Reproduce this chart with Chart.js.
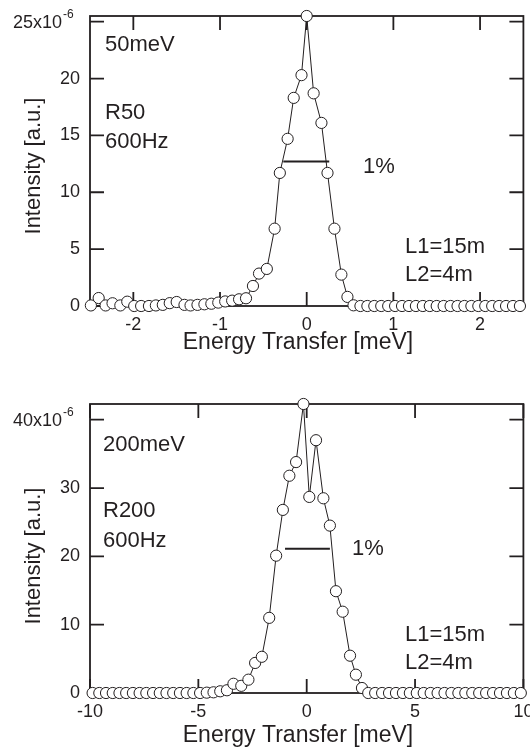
<!DOCTYPE html>
<html>
<head>
<meta charset="utf-8">
<script src="https://cdn.jsdelivr.net/npm/chart.js@4.4.0/dist/chart.umd.min.js"></script>
<style>
  html, body { margin: 0; padding: 0; background: #fff; }
  body { width: 530px; height: 749px; position: relative; overflow: hidden; }
  .panel { position: absolute; left: 0; width: 530px; }
  #top { top: 0; height: 360px; }
  #bottom { top: 380px; height: 369px; }
</style>
</head>
<body>
<div class="panel" id="top"><canvas id="chart50"></canvas></div>
<div class="panel" id="bottom"><canvas id="chart200"></canvas></div>
<script>
// --- 50 meV, R50 600Hz ---
const energy50 = [
  -2.49, -2.40, -2.32, -2.24, -2.15, -2.07, -1.99, -1.91, -1.82, -1.74,
  -1.66, -1.58, -1.50, -1.41, -1.34, -1.26, -1.18, -1.10, -1.02, -0.94,
  -0.86, -0.78, -0.70, -0.62, -0.55, -0.46, -0.37, -0.31, -0.22, -0.15,
  -0.06, 0.00, 0.08, 0.17, 0.24, 0.32, 0.40, 0.47, 0.54, 0.62,
  0.70, 0.78, 0.86, 0.94, 1.02, 1.10, 1.18, 1.26, 1.34, 1.42,
  1.50, 1.58, 1.66, 1.74, 1.82, 1.90, 1.98, 2.06, 2.14, 2.22,
  2.30, 2.38, 2.46
];
const intensity50 = [
  0.05, 0.7, 0.05, 0.24, 0.05, 0.38, 0.0, 0.0, 0.0, 0.05,
  0.1, 0.25, 0.35, 0.1, 0.05, 0.1, 0.15, 0.2, 0.3, 0.4,
  0.47, 0.59, 0.68, 1.76, 2.85, 3.26, 6.8, 11.7, 14.7, 18.3,
  20.3, 25.5, 18.7, 16.1, 11.7, 6.8, 2.76, 0.8, 0.06, 0,
  0, 0, 0, 0, 0, 0, 0, 0, 0, 0,
  0, 0, 0, 0, 0, 0, 0, 0, 0, 0,
  0, 0, 0
];
const width50 = [-0.27, 0.26];
const widthLevel50 = 12.7;
const xTicks50 = [-2, -1, 0, 1, 2];
const yTicks50 = [0, 5, 10, 15, 20, 25];

// --- 200 meV, R200 600Hz ---
const energy200 = [
  -9.88, -9.57, -9.26, -8.95, -8.64, -8.33, -8.02, -7.71, -7.40, -7.09,
  -6.78, -6.47, -6.16, -5.85, -5.54, -5.23, -4.92, -4.61, -4.30, -3.99,
  -3.68, -3.38, -3.02, -2.69, -2.38, -2.07, -1.73, -1.41, -1.10, -0.80,
  -0.49, -0.15, 0.12, 0.43, 0.77, 1.07, 1.35, 1.66, 2.00, 2.27,
  2.55, 2.84, 3.16, 3.48, 3.80, 4.12, 4.44, 4.76, 5.08, 5.40,
  5.72, 6.04, 6.36, 6.68, 7.00, 7.32, 7.64, 7.96, 8.28, 8.60,
  8.92, 9.24, 9.56, 9.88
];
const intensity200 = [
  0, 0, 0, 0, 0, 0, 0, 0, 0, 0,
  0, 0, 0, 0, 0, 0, 0, 0.05, 0.1, 0.25,
  0.4, 1.35, 1.05, 1.95, 4.4, 5.3, 11.0, 20.1, 26.8, 31.8,
  33.8, 42.3, 28.7, 37.0, 28.5, 24.5, 14.9, 11.9, 5.46, 2.68,
  0.73, 0, 0, 0, 0, 0, 0, 0, 0, 0,
  0, 0, 0, 0, 0, 0, 0, 0, 0, 0,
  0, 0, 0, 0
];
const width200 = [-1.0, 1.07];
const widthLevel200 = 21.1;
const xTicks200 = [-10, -5, 0, 5, 10];
const yTicks200 = [0, 10, 20, 30, 40];

const INK = '#231f20';
const FONT = "'Liberation Sans', Arial, Helvetica, sans-serif";
const TICK = 14;

// frame, inward ticks on all four sides, axis titles, free text and the exponent
const framePlugin = {
  id: 'frame',
  beforeDatasetsDraw(chart) {
    const { ctx, chartArea: a, scales: { x, y } } = chart;
    ctx.save();
    ctx.strokeStyle = INK;
    ctx.lineWidth = 1.8;
    ctx.strokeRect(a.left, a.top, a.right - a.left, a.bottom - a.top);
    ctx.beginPath();
    x.ticks.forEach(t => {
      const px = x.getPixelForValue(t.value);
      ctx.moveTo(px, a.bottom); ctx.lineTo(px, a.bottom - TICK);
      ctx.moveTo(px, a.top); ctx.lineTo(px, a.top + TICK);
    });
    y.ticks.forEach(t => {
      const py = y.getPixelForValue(t.value);
      ctx.moveTo(a.left, py); ctx.lineTo(a.left + TICK, py);
      ctx.moveTo(a.right, py); ctx.lineTo(a.right - TICK, py);
    });
    ctx.stroke();
    ctx.restore();
  },
  afterDraw(chart, args, opts) {
    const { ctx, scales: { y } } = chart;
    ctx.save();
    ctx.fillStyle = INK;
    ctx.textBaseline = 'middle';

    // axis titles
    ctx.textAlign = 'center';
    ctx.font = '23px ' + FONT;
    ctx.fillText('Energy Transfer [meV]', 298, opts.xTitleY);
    ctx.save();
    ctx.translate(34, opts.yTitleY);
    ctx.rotate(-Math.PI / 2);
    ctx.font = '22px ' + FONT;
    ctx.fillText('Intensity [a.u.]', 0, 0);
    ctx.restore();

    ctx.textAlign = 'left';
    ctx.font = '22px ' + FONT;
    (opts.notes || []).forEach(n => ctx.fillText(n.text, n.x, n.y));

    // top y label with exponent
    const py = y.getPixelForValue(opts.topTick);
    ctx.font = '18px ' + FONT;
    ctx.textAlign = 'right';
    ctx.fillText(opts.topTick + 'x10', 62, py + 1);
    ctx.font = '12px ' + FONT;
    ctx.textAlign = 'left';
    ctx.fillText('-6', 63, py - 7);
    ctx.restore();
  }
};

function makeChart(id, cfg) {
  const points = cfg.xs.map((x, i) => ({ x: x, y: cfg.ys[i] }));
  const bar = cfg.bar.map(x => ({ x: x, y: cfg.barLevel }));
  const topTick = cfg.yTicks[cfg.yTicks.length - 1];

  return new Chart(document.getElementById(id), {
    type: 'line',
    data: {
      datasets: [
        {
          data: points,
          borderColor: INK,
          borderWidth: 1,
          tension: 0,
          pointRadius: 5.6,
          pointBorderWidth: 1,
          pointBorderColor: INK,
          pointBackgroundColor: '#fff',
          clip: false
        },
        {
          data: bar,
          borderColor: INK,
          borderWidth: 2,
          pointRadius: 0
        }
      ]
    },
    options: {
      responsive: true,
      maintainAspectRatio: false,
      animation: false,
      layout: { padding: { top: cfg.padTop, right: 6, left: 0, bottom: 0 } },
      plugins: {
        legend: { display: false },
        tooltip: { enabled: false },
        frame: { notes: cfg.notes, topTick: topTick, xTitleY: cfg.xTitleY, yTitleY: cfg.yTitleY }
      },
      scales: {
        x: {
          type: 'linear',
          min: cfg.xMin,
          max: cfg.xMax,
          afterBuildTicks: s => { s.ticks = cfg.xTicks.map(v => ({ value: v })); },
          afterFit: s => { s.height = cfg.xAxisHeight; s.paddingLeft = 0; s.paddingRight = 0; },
          grid: { display: false, drawTicks: false },
          border: { display: false },
          ticks: {
            color: INK,
            font: { family: FONT, size: 18 },
            padding: 8,
            autoSkip: false,
            maxRotation: 0
          }
        },
        y: {
          min: 0,
          max: cfg.yMax,
          afterBuildTicks: s => { s.ticks = cfg.yTicks.map(v => ({ value: v })); },
          afterFit: s => { s.width = 90; s.paddingTop = 0; s.paddingBottom = 0; },
          grid: { display: false, drawTicks: false },
          border: { display: false },
          ticks: {
            color: INK,
            font: { family: FONT, size: 18 },
            padding: 10,
            autoSkip: false,
            callback: v => (v === topTick ? '' : v)
          }
        }
      }
    },
    plugins: [framePlugin]
  });
}

makeChart('chart50', {
  xs: energy50, ys: intensity50, bar: width50, barLevel: widthLevel50,
  xTicks: xTicks50, yTicks: yTicks50, xMin: -2.5, xMax: 2.5, yMax: 25.5,
  padTop: 16, xAxisHeight: 54, xTitleY: 343, yTitleY: 166,
  notes: [
    { text: '50meV', x: 105, y: 45 },
    { text: 'R50', x: 105, y: 113 },
    { text: '600Hz', x: 105, y: 142 },
    { text: '1%', x: 363, y: 167 },
    { text: 'L1=15m', x: 405, y: 247 },
    { text: 'L2=4m', x: 405, y: 275 }
  ]
});

makeChart('chart200', {
  xs: energy200, ys: intensity200, bar: width200, barLevel: widthLevel200,
  xTicks: xTicks200, yTicks: yTicks200, xMin: -10, xMax: 10, yMax: 42.3,
  padTop: 24, xAxisHeight: 56, xTitleY: 356, yTitleY: 176,
  notes: [
    { text: '200meV', x: 103, y: 65 },
    { text: 'R200', x: 103, y: 131 },
    { text: '600Hz', x: 103, y: 161 },
    { text: '1%', x: 352, y: 169 },
    { text: 'L1=15m', x: 405, y: 255 },
    { text: 'L2=4m', x: 405, y: 283 }
  ]
});
</script>
</body>
</html>
